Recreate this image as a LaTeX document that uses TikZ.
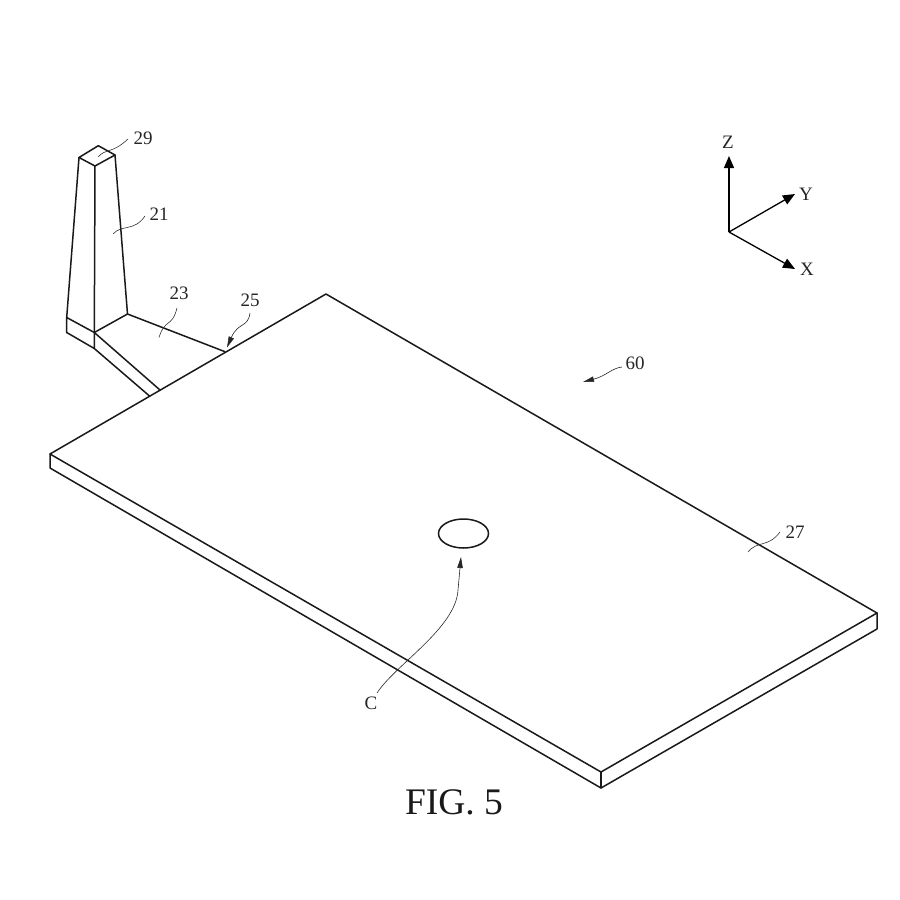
\documentclass[tikz,border=0pt]{standalone}
\usepackage{fontspec}
\setmainfont{Liberation Serif}
\usetikzlibrary{arrows.meta,shapes.geometric}
\tikzset{
  x=1pt,y=-1pt,
  edge/.style={line width=1.5pt,line join=round,line cap=round,black!90},
  thin edge/.style={line width=1.2pt,line join=round,line cap=round,black!90},
  leader/.style={line width=0.6pt,black!80},
  lbl/.style={font=\fontsize{19}{19}\selectfont,inner sep=0pt,text=black!85},
  figlbl/.style={font=\fontsize{37.5}{38}\selectfont,inner sep=0pt,text=black!90},
  axis/.style={line width=1.3pt,-{Triangle[length=12pt,width=10pt]},black},
  pointer/.style={line width=0.6pt,-{Triangle[length=11pt,width=5.5pt]},black!85},
  spot/.style={draw,ellipse,minimum width=50pt,minimum height=29pt,inner sep=0pt,line width=1.5pt,black!90}
}
\begin{document}
\begin{tikzpicture}
\useasboundingbox (0,0) rectangle (900,900);
% plate
\coordinate (pb) at (326,294);
\coordinate (pl) at (50,454);
\coordinate (pll) at (50,468);
\coordinate (pf) at (601,772);
\coordinate (pfl) at (601,788);
\coordinate (pr) at (877,613);
\coordinate (prl) at (877,629);
\draw[edge] (pb) -- (pl) -- (pll) -- (pfl) -- (prl) -- (pr) -- cycle;
\draw[edge] (pl) -- (pf) -- (pr);
\draw[thin edge] (pf) -- (pfl);
% tower
\coordinate (t1) at (79,157.5);
\coordinate (t2) at (98.3,145.7);
\coordinate (t3) at (115,155);
\coordinate (t4) at (95,166);
\coordinate (b1) at (66.7,317.5);
\coordinate (b2) at (66.7,332.5);
\coordinate (b3) at (94.3,332.5);
\coordinate (b4) at (94.3,348.5);
\coordinate (b5) at (127.5,314);
\coordinate (e1) at (225,351.7);
\coordinate (e2) at (160,390);
\coordinate (e3) at (149.5,396);
\draw[edge] (t1) -- (t2) -- (t3) -- (t4) -- cycle;
\draw[edge] (t1) -- (b1) -- (b2) -- (b4) -- (b3) -- (b1);
\draw[edge] (t4) -- (b3);
\draw[edge] (t3) -- (b5) -- (b3);
\draw[edge] (b5) -- (e1);
\draw[edge] (b3) -- (e2);
\draw[edge] (b4) -- (e3);
% spot C
\node[spot] (spotc) at (463.5,533.5) {};
\node[lbl] (lc) at (371,703.5) {C};
\coordinate (cs) at (377,693);
\coordinate (ctip) at (461,557);
\draw[pointer] (cs) .. controls (395,665) and (456,628) .. (458,590) -- (ctip);
% labels and leaders
\node[lbl] (l29) at (143,138) {29};
\node[lbl] (l21) at (159,214) {21};
\node[lbl] (l23) at (179,293) {23};
\node[lbl] (l25) at (250,300.5) {25};
\node[lbl] (l60) at (635,363) {60};
\node[lbl] (l27) at (795,532) {27};
\coordinate (a29) at (98,157);
\coordinate (a21) at (113,234);
\coordinate (a23) at (159,337.5);
\coordinate (a25) at (227,347.5);
\coordinate (a60) at (583,382);
\coordinate (a27) at (748,552);
\coordinate (s29) at (128,139);
\coordinate (s21) at (145,216);
\coordinate (s23) at (177,308);
\coordinate (s25) at (250,313);
\coordinate (s60) at (622,367);
\coordinate (s27) at (780,532);
\draw[leader] (a29) .. controls (106,148) and (112,154) .. (s29);
\draw[leader] (a21) .. controls (122,224) and (134,232) .. (s21);
\draw[leader] (a23) .. controls (165,318) and (172,328) .. (s23);
\draw[pointer] (s25) .. controls (248,328) and (238,322) .. (a25);
\draw[pointer] (s60) .. controls (612,368) and (606,376) .. (a60);
\draw[leader] (a27) .. controls (758,540) and (768,548) .. (s27);
% axes
\coordinate (o) at (729,232);
\coordinate (zt) at (729,156);
\coordinate (yt) at (795,194);
\coordinate (xt) at (795,269);
\node[lbl] (lz) at (728,142) {Z};
\node[lbl] (ly) at (806,194) {Y};
\node[lbl] (lx) at (807,269) {X};
\draw[axis] (o) -- (zt);
\draw[axis] (o) -- (yt);
\draw[axis] (o) -- (xt);
\node[figlbl] (fig) at (454,802) {FIG. 5};
\end{tikzpicture}
\end{document}
